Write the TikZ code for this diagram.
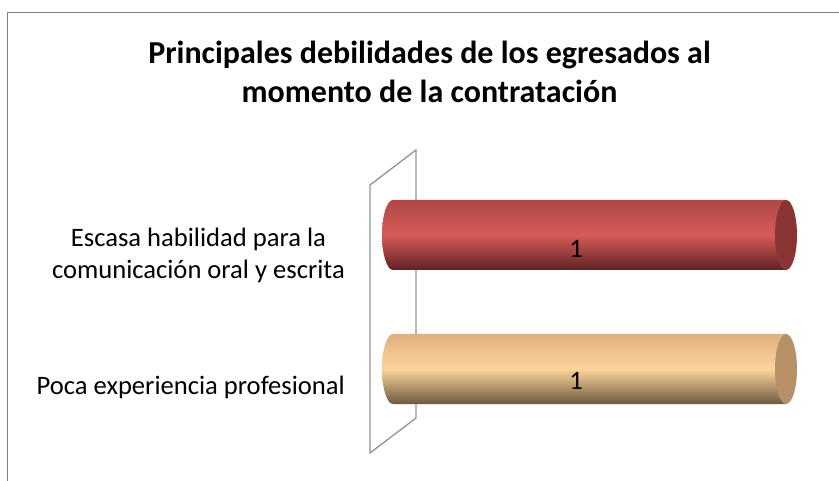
\documentclass[tikz,border=0pt]{standalone}
\usepackage{fontspec}
\setmainfont{Carlito}
\usepackage{tikz}

\definecolor{redtop}{HTML}{B04848}
\definecolor{redmid}{HTML}{D65B59}
\definecolor{redbot}{HTML}{5E2222}
\definecolor{redcap}{HTML}{8A3434}
\definecolor{orntop}{HTML}{E0B080}
\definecolor{ornmid}{HTML}{FCD49A}
\definecolor{ornbot}{HTML}{6E5A40}
\definecolor{orncap}{HTML}{B89068}

\tikzset{
	cat/.style={font=\fontsize{26.6}{32}\selectfont, align=center, anchor=east, inner sep=0pt},
	val/.style={font=\fontsize{26.6}{32}\selectfont, inner sep=0pt},
	wall/.style={draw=gray!85, line width=1.3pt},
}

\begin{document}
\begin{tikzpicture}[x=1pt,y=-1pt]
	\useasboundingbox (0,0) rectangle (839,481);
	% frame
	\draw[black!50, line width=1.8pt] (7.5,481) -- (7.5,12.5) -- (839,12.5);
	\node[font=\bfseries\fontsize{32}{39}\selectfont, align=center] (title) at (429.5,72) {Principales debilidades de los egresados al\\momento de la contratación};
	
	% back wall
	\draw[wall] (370,185) -- (416,150) -- (416,418) -- (370,453) -- cycle;
	
	% bars
	\shade[top color=redtop, bottom color=redbot, middle color=redmid] (393,200) -- (786,200) -- (786,270) -- (393,270) arc[start angle=90, end angle=270, x radius=11, y radius=35] -- cycle;
	\fill[redcap] (786,235) ellipse[x radius=11, y radius=35];
	\shade[top color=orntop, bottom color=ornbot, middle color=ornmid] (393,334) -- (786,334) -- (786,404) -- (393,404) arc[start angle=90, end angle=270, x radius=11, y radius=35] -- cycle;
	\fill[orncap] (786,369) ellipse[x radius=11, y radius=35];
	
	\node[val] (v1) at (576,249) {1};
	\node[val] (v2) at (576,381) {1};
	
	\node[cat] (c1) at (345,255) {Escasa habilidad para la\\comunicación oral y escrita};
	\node[cat] (c2) at (345,387) {Poca experiencia profesional};
\end{tikzpicture}
\end{document}
